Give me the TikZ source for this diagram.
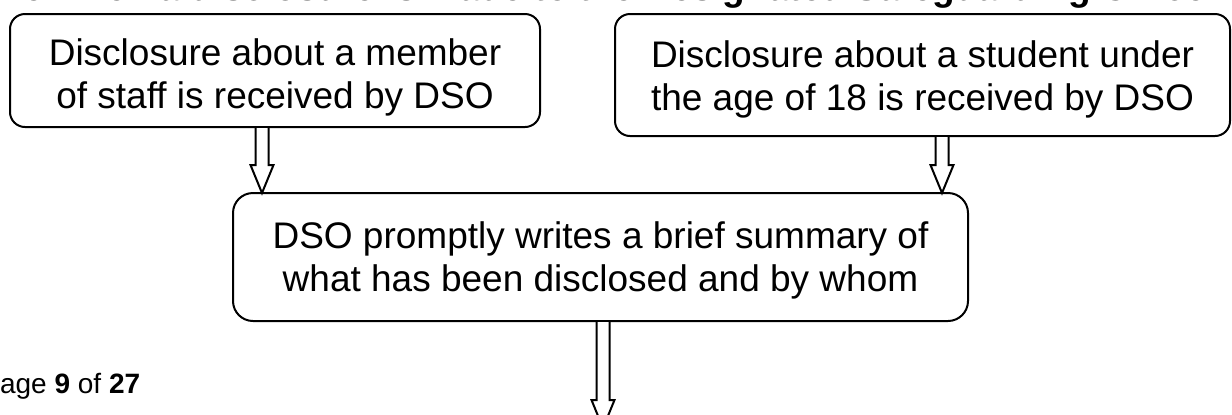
\documentclass[tikz,border=0pt]{standalone}
\usepackage{fontspec}
\setmainfont{Liberation Sans}
\usetikzlibrary{calc}

\begin{document}
\begin{tikzpicture}[x=0.5pt,y=-0.5pt,
  flowbox/.style={draw, line width=1pt, rounded corners=7.5pt, inner sep=0pt, outer sep=0pt},
  flowtext/.style={align=center, inner sep=0pt, font=\fontsize{18.5}{21.5}\selectfont},
  blockarrow/.style={draw, fill=white, line width=1pt, to path={
    let \p1=(\tikztostart), \p2=(\tikztotarget) in
    ({\x1-3.25pt},{\y1-0.5pt}) -- ({\x1-3.25pt},{\y2+14pt}) -- ({\x1-5.75pt},{\y2+14pt})
    -- (\x1,\y2) -- ({\x1+5.75pt},{\y2+14pt}) -- ({\x1+3.25pt},{\y2+14pt})
    -- ({\x1+3.25pt},{\y1-0.5pt})}}]
\useasboundingbox (0,0) rectangle (1232,414);
% heading and footer, cut by the page edge
\node[anchor=base west, inner sep=0pt, font=\fontsize{18.5}{21.5}\selectfont\bfseries] (title) at (-139,0.5) {Procedure when a disclosure is made to the Designated Safeguarding Officer};
\node[anchor=base west, inner sep=0pt, font=\fontsize{14}{16}\selectfont] (page) at (-19,393) {Page \textbf{9} of \textbf{27}};
% boxes
\node[flowbox, minimum width=265pt, minimum height=56.5pt] (staff) at (275,70.5) {};
\node[flowtext] (staffTxt) at (275,77) {Disclosure about a member\\of staff is received by DSO};
\node[flowbox, minimum width=307.5pt, minimum height=61pt] (student) at (922.5,75) {};
\node[flowtext] (studentTxt) at (922.5,79) {Disclosure about a student under\\the age of 18 is received by DSO};
\node[flowbox, rounded corners=10pt, minimum width=367.5pt, minimum height=64pt] (summary) at (600.5,257) {};
\node[flowtext] (summaryTxt) at (600.5,260) {DSO promptly writes a brief summary of\\what has been disclosed and by whom};
% arrows
\coordinate (tipA) at (262,193);
\coordinate (tipB) at (942,193);
\coordinate (tipC) at (603,428);
\draw[blockarrow] (tipA |- staff.south) to (tipA);
\draw[blockarrow] (tipB |- student.south) to (tipB);
\draw[blockarrow] (tipC |- summary.south) to (tipC);
\end{tikzpicture}
\end{document}
